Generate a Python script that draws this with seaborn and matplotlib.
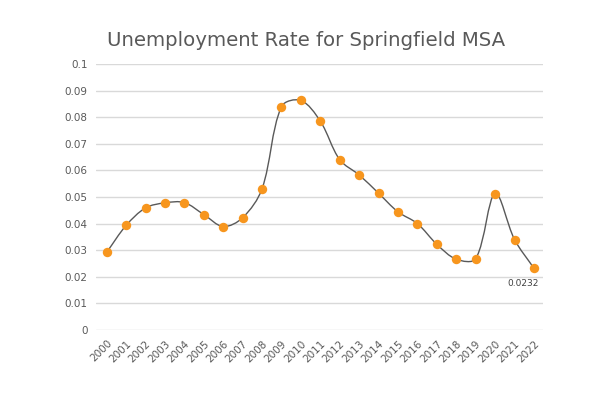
import numpy as np
import pandas as pd
import matplotlib
matplotlib.use("Agg")
import matplotlib.pyplot as plt
from matplotlib.path import Path
from matplotlib.patches import PathPatch
import seaborn as sns

years = ["2000", "2001", "2002", "2003", "2004", "2005", "2006", "2007", "2008",
         "2009", "2010", "2011", "2012", "2013", "2014", "2015", "2016", "2017",
         "2018", "2019", "2020", "2021", "2022"]
rates = [0.0292, 0.0393, 0.0459, 0.0478, 0.0479, 0.0434, 0.0389, 0.0422, 0.0531,
         0.0840, 0.0863, 0.0785, 0.0640, 0.0583, 0.0514, 0.0444, 0.0400, 0.0322,
         0.0266, 0.0268, 0.0513, 0.0340, 0.0232]
yticks = [0, 0.01, 0.02, 0.03, 0.04, 0.05, 0.06, 0.07, 0.08, 0.09, 0.1]
ytick_labels = ["0", "0.01", "0.02", "0.03", "0.04", "0.05", "0.06", "0.07",
                "0.08", "0.09", "0.1"]
title = "Unemployment Rate for Springfield MSA"
last_label = "0.0232"

sns.set_theme(style="white")
plt.rcParams["font.family"] = ["DejaVu Sans"]

df = pd.DataFrame({"year": years, "rate": rates})
df["pos"] = np.arange(len(df))

fig = plt.figure(figsize=(6.13, 3.97), dpi=100)
ax = fig.add_axes([96 / 613, 1 - 330 / 397, (542.7 - 96) / 613, (330 - 64) / 397])

ax.set_xlim(-0.55, len(years) - 0.55)
ax.set_ylim(0, 0.1)

# smoothed line: length-weighted bezier in display space (Excel-like smoothing)
xs = df["pos"].to_numpy(dtype=float)
ys = df["rate"].to_numpy(dtype=float)
disp = ax.transData.transform(np.column_stack([xs, ys]))
n = len(disp)
k = 1.0 / 3.0
out_arm = np.zeros_like(disp)
in_arm = np.zeros_like(disp)
for i in range(n):
    p_prev = disp[i - 1] if i > 0 else disp[i]
    p_next = disp[i + 1] if i < n - 1 else disp[i]
    d0 = np.hypot(*(disp[i] - p_prev))
    d1 = np.hypot(*(p_next - disp[i]))
    tot = d0 + d1
    if tot == 0:
        continue
    T = p_next - p_prev
    out_arm[i] = T * k * d1 / tot
    in_arm[i] = T * k * d0 / tot
verts_disp = [disp[0]]
codes = [Path.MOVETO]
for i in range(n - 1):
    verts_disp += [disp[i] + out_arm[i], disp[i + 1] - in_arm[i + 1], disp[i + 1]]
    codes += [Path.CURVE4] * 3
verts = ax.transData.inverted().transform(np.array(verts_disp))
ax.add_patch(PathPatch(Path(verts, codes), facecolor="none", edgecolor="#595959",
                       lw=1.0, zorder=3))

sns.scatterplot(data=df, x="pos", y="rate", ax=ax, color="#F7961E", s=46,
                edgecolor="#F7961E", linewidth=0, zorder=4, legend=False)

ax.set_xlim(-0.55, len(years) - 0.55)
ax.set_ylim(0, 0.1)
ax.set_yticks(yticks)
ax.set_yticklabels(ytick_labels)
ax.set_xticks(df["pos"])
ax.set_xticklabels(years, rotation=45, ha="right", rotation_mode="anchor")
ax.grid(axis="y", color="#D9D9D9", lw=1.0)
ax.set_axisbelow(True)
for s in ax.spines.values():
    s.set_visible(False)
ax.tick_params(axis="y", length=0, pad=6, labelsize=7.5, labelcolor="#595959")
ax.tick_params(axis="x", length=0, pad=6, labelsize=7.5, labelcolor="#595959")
ax.set_xlabel("")
ax.set_ylabel("")

ax.annotate(last_label, xy=(xs[-1], ys[-1]), xytext=(-8, -11),
            textcoords="offset points", ha="center", va="center",
            fontsize=6.5, color="#404040")

fig.text(0.5, 1 - 41 / 397, title, ha="center", va="center", fontsize=14.2,
         color="#595959")

fig.savefig("out.png", dpi=100, facecolor="white")
